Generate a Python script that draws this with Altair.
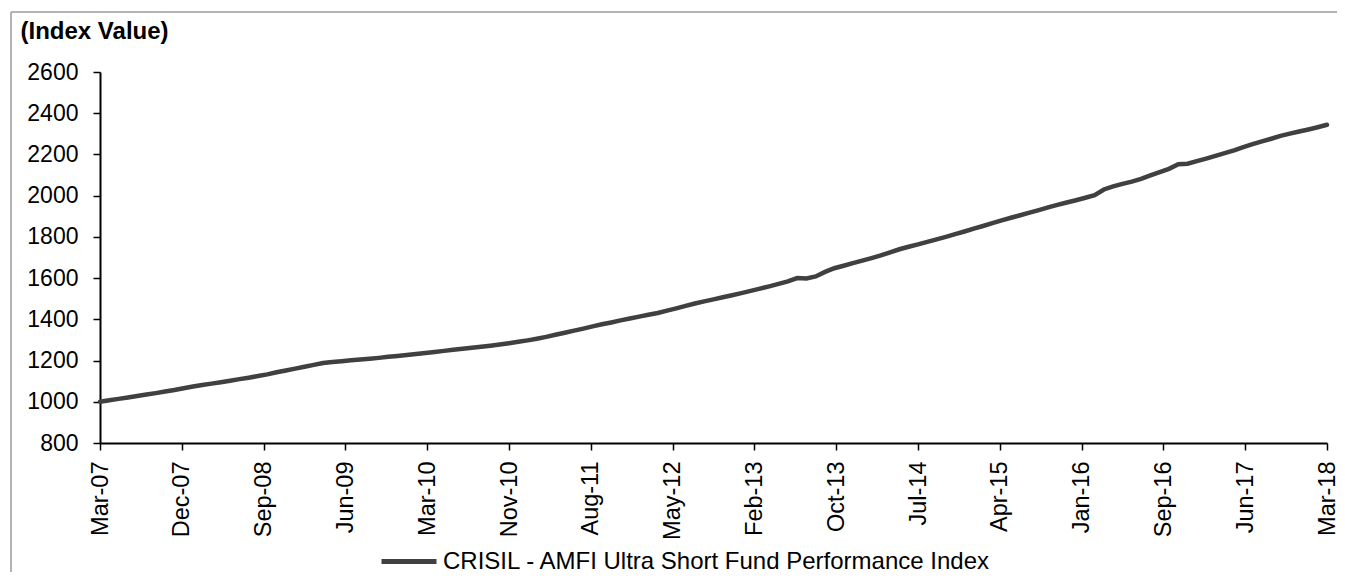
import json
import altair as alt
import pandas as pd

# Monthly index values, Mar-07 (month 0) to Mar-18 (month 132)
values = [
    1000, 1007, 1014, 1021, 1028, 1035, 1042, 1050, 1057, 1066,
    1074, 1081, 1088, 1095, 1102, 1110, 1117, 1125, 1133,
    1143, 1152, 1161, 1170, 1179, 1188,
    1193, 1197, 1201, 1205, 1209, 1213, 1218, 1222, 1227, 1232, 1237,
    1242, 1247, 1252, 1257, 1262, 1267, 1272, 1278, 1284,
    1291, 1298, 1306, 1315, 1325, 1335, 1345, 1355, 1366, 1376,
    1385, 1395, 1404, 1413, 1422, 1431, 1442, 1453, 1465, 1477,
    1487, 1497, 1507, 1517, 1527, 1538, 1549, 1560, 1572, 1584,
    1600, 1598, 1608, 1630, 1648,
    1660, 1673, 1685, 1697, 1710, 1725, 1740, 1752, 1764, 1776, 1788,
    1800, 1813, 1826, 1840, 1853, 1867, 1880, 1893, 1905, 1918,
    1930, 1943, 1955, 1967, 1978, 1990, 2002, 2030, 2045,
    2057, 2068, 2081, 2098, 2114, 2130, 2152, 2155, 2168,
    2180, 2193, 2206, 2220, 2236, 2250, 2263, 2276, 2290, 2301, 2311, 2321, 2332, 2344,
]
tick_labels = ["Mar-07", "Dec-07", "Sep-08", "Jun-09", "Mar-10", "Nov-10", "Aug-11",
               "May-12", "Feb-13", "Oct-13", "Jul-14", "Apr-15", "Jan-16", "Sep-16",
               "Jun-17", "Mar-18"]
y_ticks = [800, 1000, 1200, 1400, 1600, 1800, 2000, 2200, 2400, 2600]
series_name = "CRISIL - AMFI Ultra Short Fund Performance Index"

n_months = len(values) - 1
step = n_months / (len(tick_labels) - 1)
x_ticks = [i * step for i in range(len(tick_labels))]

df = pd.DataFrame({"month": list(range(len(values))), "value": values, "series": series_name})

FONT = "Liberation Sans"
label_expr = f"{json.dumps(tick_labels)}[round(datum.value / {step})]"

W, H = 1227, 371

line = alt.Chart(df).mark_line(strokeWidth=4.5, strokeCap="round").encode(
    x=alt.X("month:Q",
            scale=alt.Scale(domain=[0, n_months], nice=False, zero=False),
            axis=alt.Axis(values=x_ticks, labelExpr=label_expr, labelAngle=-90,
                          title=None, grid=False, tickSize=7, labelPadding=11,
                          labelFontSize=23.5, labelColor="black", domainColor="black",
                          domainWidth=2, tickColor="black", tickWidth=1.5,
                          labelFont=FONT)),
    y=alt.Y("value:Q",
            scale=alt.Scale(domain=[800, 2600], nice=False, zero=False),
            axis=alt.Axis(values=y_ticks, format="d", title="(Index Value)", titleAngle=0,
                          titleX=-80, titleY=-34, titleAlign="left",
                          titleBaseline="alphabetic", titleFontWeight="bold",
                          titleFontSize=24, titleFont=FONT, titleColor="black",
                          grid=False, tickSize=7, labelPadding=15, labelFontSize=23,
                          labelFont=FONT, labelColor="black", domainColor="black",
                          domainWidth=2, tickColor="black", tickWidth=1.5)),
    color=alt.Color("series:N", scale=alt.Scale(range=["#404040"]),
                    legend=alt.Legend(title=None, orient="none", legendX=279, legendY=477,
                                      symbolType="stroke", symbolSize=3025,
                                      symbolStrokeWidth=5, clipHeight=25, padding=0,
                                      labelOffset=4, labelFontSize=24, labelFont=FONT,
                                      labelColor="black", labelLimit=800)),
)

one = pd.DataFrame({"k": [0]})
border_top = alt.Chart(one).mark_rule(color="#b3b3b3", strokeWidth=2).encode(
    x=alt.value(-89), x2=alt.value(W + 20), y=alt.value(-60))
border_left = alt.Chart(one).mark_rule(color="#b3b3b3", strokeWidth=2).encode(
    x=alt.value(-89), y=alt.value(-60), y2=alt.value(H + 140))

chart = alt.layer(border_top, border_left, line).properties(
    width=W, height=H,
    padding={"left": 92, "top": 64, "right": 10, "bottom": 129},
    autosize=alt.AutoSizeParams(type="none"),
).configure(font=FONT).configure_view(stroke=None)

chart.save("out.html", embed_options={"renderer": "svg", "actions": False})
